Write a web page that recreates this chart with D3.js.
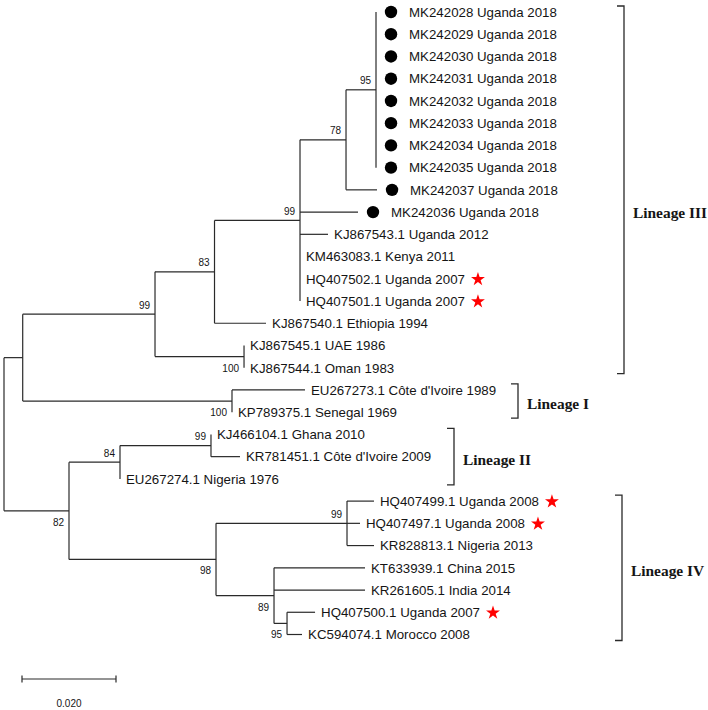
<!DOCTYPE html>
<html>
<head>
<meta charset="utf-8">
<script src="https://cdn.jsdelivr.net/npm/d3@7"></script>
<style>
  html, body { margin: 0; padding: 0; background: #fff; }
  svg { display: block; }
</style>
</head>
<body>
<div id="chart"></div>
<script>
// ---------- DATA ----------
// internal nodes: id, parent, branch length (substitutions/site), bootstrap
const nodeIds       = ["root", "A", "B", "C", "F", "G", "H", "D", "E", "I", "J", "L", "K", "M", "N", "O"];
const nodeParents   = ["",     "root", "A", "B", "C", "F", "G", "B", "A", "root", "I", "J", "I", "K", "K", "N"];
const nodeLengths   = [0, 0.00398, 0.02815, 0.01266, 0.01819, 0.00979, 0.00638, 0.01894, 0.04453, 0.01383, 0.01085, 0.01936, 0.03128, 0.02787, 0.01234, 0.00277];
const nodeBootstrap = [null, null, 99, 83, 99, 78, 95, 100, 100, 82, 84, 99, 98, 99, 89, 95];

// tips in display order
const tipNames = [
  "MK242028 Uganda 2018", "MK242029 Uganda 2018", "MK242030 Uganda 2018",
  "MK242031 Uganda 2018", "MK242032 Uganda 2018", "MK242033 Uganda 2018",
  "MK242034 Uganda 2018", "MK242035 Uganda 2018", "MK242037 Uganda 2018",
  "MK242036 Uganda 2018", "KJ867543.1 Uganda 2012", "KM463083.1 Kenya 2011",
  "HQ407502.1 Uganda 2007", "HQ407501.1 Uganda 2007", "KJ867540.1 Ethiopia 1994",
  "KJ867545.1 UAE 1986", "KJ867544.1 Oman 1983", "EU267273.1 Côte d'Ivoire 1989",
  "KP789375.1 Senegal 1969", "KJ466104.1 Ghana 2010", "KR781451.1 Côte d'Ivoire 2009",
  "EU267274.1 Nigeria 1976", "HQ407499.1 Uganda 2008", "HQ407497.1 Uganda 2008",
  "KR828813.1 Nigeria 2013", "KT633939.1 China 2015", "KR261605.1 India 2014",
  "HQ407500.1 Uganda 2007", "KC594074.1 Morocco 2008"
];
const tipParents = ["H","H","H","H","H","H","H","H","G","F","F","F","F","F","C","D","D","E","E","L","L","J","M","M","M","N","N","O","O"];
const tipLengths = [0,0,0,0,0,0,0,0, 0.0066, 0.01234, 0.00596, 0, 0, 0, 0.01096, 0, 0, 0.01553, 0, 0, 0.00617, 0, 0.00574, 0.00277, 0.00574, 0.01936, 0.01936, 0.00596, 0.00319];

const dotTips  = ["MK242028 Uganda 2018", "MK242029 Uganda 2018", "MK242030 Uganda 2018",
  "MK242031 Uganda 2018", "MK242032 Uganda 2018", "MK242033 Uganda 2018",
  "MK242034 Uganda 2018", "MK242035 Uganda 2018", "MK242037 Uganda 2018", "MK242036 Uganda 2018"];
const starTips = ["HQ407502.1 Uganda 2007", "HQ407501.1 Uganda 2007", "HQ407499.1 Uganda 2008",
  "HQ407497.1 Uganda 2008", "HQ407500.1 Uganda 2007"];

const lineageNames = ["Lineage III", "Lineage I", "Lineage II", "Lineage IV"];
const lineageFirst = ["MK242028 Uganda 2018", "EU267273.1 Côte d'Ivoire 1989", "KJ466104.1 Ghana 2010", "HQ407499.1 Uganda 2008"];
const lineageLast  = ["KJ867544.1 Oman 1983", "KP789375.1 Senegal 1969", "EU267274.1 Nigeria 1976", "KC594074.1 Morocco 2008"];

const scaleBarValue = 0.02;
const scaleBarLabel = "0.020";

// ---------- LAYOUT ----------
const W = 708, H = 710;
const bracketX = { "Lineage III": 624, "Lineage I": 518, "Lineage II": 454, "Lineage IV": 622 };
const labelShift = { "Lineage III": 22.5, "Lineage I": 3, "Lineage II": 3, "Lineage IV": 3 };
const lineColor = "#2a2a2a";
const textColor = "#151515";
const sansFont = "'Liberation Sans', Arial, sans-serif";
const serifFont = "'Liberation Serif', 'Times New Roman', serif";

const svg = d3.select("#chart").append("svg")
  .attr("width", W).attr("height", H)
  .attr("viewBox", `0 0 ${W} ${H}`);
svg.append("rect").attr("width", W).attr("height", H).attr("fill", "#fff");

// build table
const table = [];
nodeIds.forEach((id, i) => table.push({ id, parent: nodeParents[i] || null, len: nodeLengths[i], boot: nodeBootstrap[i], tip: false }));
tipNames.forEach((id, i) => table.push({ id, parent: tipParents[i], len: tipLengths[i], boot: null, tip: true }));

const root = d3.stratify().id(d => d.id).parentId(d => d.parent)(table);
const tipIndex = new Map(tipNames.map((n, i) => [n, i]));
root.eachAfter(n => {
  n.minIdx = n.children ? d3.min(n.children, c => c.minIdx) : tipIndex.get(n.id);
});
root.sort((a, b) => a.minIdx - b.minIdx);

root.eachBefore(n => { n.dist = n.parent ? n.parent.dist + n.data.len : 0; });

const x = d3.scaleLinear().domain([0, 0.1]).range([4, 474]);
const y = d3.scalePoint().domain(tipNames).range([12, 634.5]);

root.eachAfter(n => {
  n.px = x(n.dist);
  if (n.children) {
    n.py = (n.children[0].py + n.children[n.children.length - 1].py) / 2;
  } else {
    n.py = y(n.id);
  }
});

const g = svg.append("g");

// horizontal branches
g.selectAll("line.h").data(root.descendants().filter(n => n.parent))
  .join("line").attr("class", "h")
  .attr("x1", n => n.parent.px).attr("x2", n => n.px)
  .attr("y1", n => n.py).attr("y2", n => n.py)
  .attr("stroke", lineColor).attr("stroke-width", 1.2);

// vertical connectors
g.selectAll("line.v").data(root.descendants().filter(n => n.children))
  .join("line").attr("class", "v")
  .attr("x1", n => n.px).attr("x2", n => n.px)
  .attr("y1", n => n.children[0].py).attr("y2", n => n.children[n.children.length - 1].py)
  .attr("stroke", lineColor).attr("stroke-width", 1.2);

// bootstrap labels
g.selectAll("text.boot").data(root.descendants().filter(n => n.data.boot != null))
  .join("text").attr("class", "boot")
  .attr("x", n => n.px - 5)
  .attr("y", n => (n.parent && n.parent.children[0] === n) ? n.py - 5.5 : n.py + 15)
  .attr("text-anchor", "end")
  .attr("font-family", sansFont).attr("font-size", 10)
  .attr("fill", textColor)
  .text(n => n.data.boot);

// tips
const dotSet = new Set(dotTips), starSet = new Set(starTips);
const leaves = root.leaves();

g.selectAll("circle.dot").data(leaves.filter(n => dotSet.has(n.id)))
  .join("circle").attr("class", "dot")
  .attr("cx", n => n.px + 15).attr("cy", n => n.py).attr("r", 6.2)
  .attr("fill", "#000");

const tipText = g.selectAll("text.tip").data(leaves)
  .join("text").attr("class", "tip")
  .attr("x", n => n.px + (dotSet.has(n.id) ? 33 : 6))
  .attr("y", n => n.py).attr("dy", "0.36em")
  .attr("font-family", sansFont).attr("font-size", 13.3)
  .attr("fill", textColor)
  .text(n => n.id);

tipText.each(function(n) {
  if (!starSet.has(n.id)) return;
  const end = +this.getAttribute("x") + this.getComputedTextLength();
  g.append("path")
    .attr("d", d3.symbol(d3.symbolStar, 60)())
    .attr("transform", `translate(${end + 13},${n.py + 0.5})`)
    .attr("fill", "#ff0000");
});

// lineage brackets
lineageNames.forEach((name, i) => {
  const y0 = y(lineageFirst[i]) - 6, y1 = y(lineageLast[i]) + 6;
  const bx = bracketX[name];
  g.append("path")
    .attr("d", `M${bx - 7},${y0}H${bx}V${y1}H${bx - 7}`)
    .attr("fill", "none").attr("stroke", lineColor).attr("stroke-width", 1.3);
  g.append("text")
    .attr("x", bx + 9).attr("y", (y0 + y1) / 2 + labelShift[name]).attr("dy", "0.35em")
    .attr("font-family", serifFont).attr("font-weight", "bold").attr("font-size", 15.4)
    .attr("fill", textColor)
    .text(name);
});

// scale bar
const sbY = 679, sbX0 = x(0) + 18;
const sbX1 = sbX0 + (x(scaleBarValue) - x(0));
g.append("path")
  .attr("d", `M${sbX0},${sbY}H${sbX1}M${sbX0},${sbY - 3.5}V${sbY + 3.5}M${sbX1},${sbY - 3.5}V${sbY + 3.5}`)
  .attr("fill", "none").attr("stroke", lineColor).attr("stroke-width", 1.2);
g.append("text")
  .attr("x", (sbX0 + sbX1) / 2).attr("y", 703).attr("dy", "0.35em")
  .attr("text-anchor", "middle")
  .attr("font-family", sansFont).attr("font-size", 10)
  .attr("fill", textColor)
  .text(scaleBarLabel);
</script>
</body>
</html>
